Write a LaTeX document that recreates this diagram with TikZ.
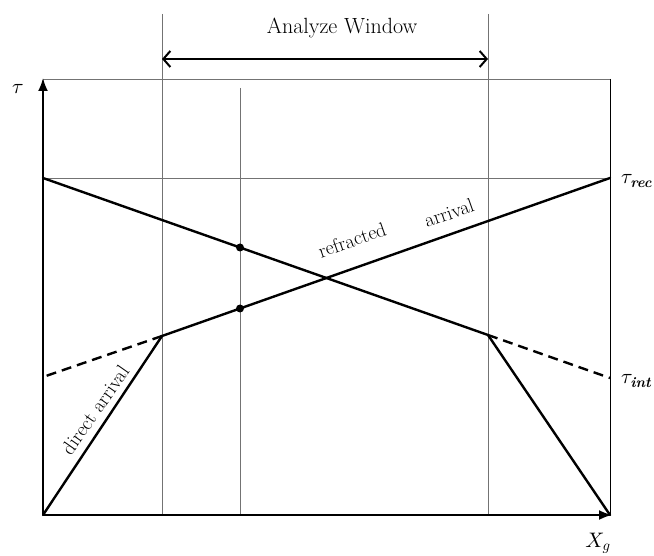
\documentclass[tikz,border=0pt]{standalone}
\usepackage{amsmath}
\usetikzlibrary{arrows.meta}
% scalable math italic so large symbols keep their size
\DeclareFontShape{OML}{cmm}{m}{it}{<->cmmi10}{}
\DeclareFontShape{OML}{cmm}{b}{it}{<->cmmib10}{}
\begin{document}
\begin{tikzpicture}[x=1pt,y=-1pt,
  guide/.style={draw=black!55, line width=0.8pt},
  axisline/.style={draw=black, line width=1.8pt, -{Latex[length=13pt,width=10pt]}},
  ray/.style={draw=black, line width=2.4pt, line cap=round, line join=round},
  rayext/.style={ray, line cap=butt, dash pattern=on 10pt off 6pt},
  pick/.style={circle, fill=black, inner sep=0pt, minimum size=8pt},
  lbl/.style={font=\fontsize{20}{22}\selectfont, inner sep=0pt},
  sym/.style={font=\fontsize{21}{24}\selectfont, inner sep=0pt}]
\useasboundingbox (0,0) rectangle (654,556);

% frame points
\coordinate (O)    at (43,515);
\coordinate (Ytop) at (43,78);
\coordinate (Xend) at (612,515);
\coordinate (TL)   at (43,79);
\coordinate (TR)   at (610,79);
\coordinate (BR)   at (610,515);
\coordinate (Lrec) at (43,178);
\coordinate (Rrec) at (610,178);
\coordinate (Lint) at (43,377);
\coordinate (Rint) at (610,378);
% kinks of the travel-time curves
\coordinate (A) at (162,336);
\coordinate (B) at (488,335);
% window guides
\coordinate (W1t) at (162,14);  \coordinate (W1b) at (162,515);
\coordinate (W2t) at (488,14);  \coordinate (W2b) at (488,515);
\coordinate (Mt)  at (240,88);  \coordinate (Mb)  at (240,515);
\coordinate (WA)  at (162,59);  \coordinate (WB)  at (488,59);

% thin guide lines
\draw[guide] (TL) -- (TR);
\draw[draw=black, line width=1pt] (TR) -- (BR);
\draw[guide] (Lrec) -- (Rrec);
\draw[guide] (W1t) -- (W1b);
\draw[guide] (W2t) -- (W2b);
\draw[guide] (Mt) -- (Mb);

% analysis window arrow
\draw[line width=2pt, {Straight Barb[length=7pt,width=16pt,line width=2pt]}-{Straight Barb[length=7pt,width=16pt,line width=2pt]}] (WA) -- (WB);
\node[lbl, font=\fontsize{22}{24}\selectfont] (win) at (342,28) {Analyze Window};

% axes
\draw[axisline] (O) -- (Ytop);
\draw[axisline] (O) -- (Xend);

% travel-time curves
\draw[ray] (Lrec) -- (B) -- (BR);
\draw[ray] (O) -- (A) -- (Rrec);
\draw[rayext] (B) -- (Rint);
\draw[rayext] (A) -- (Lint);

% picked points on the middle trace
\node[pick] (p1) at (240,247.5) {};
\node[pick] (p2) at (240,308.5) {};

% labels
\node[sym] (tau) at (18,89) {$\tau$};
\node[sym, anchor=west] (taurec) at (621,181) {$\tau_{\textbf{\textit{rec}}}$};
\node[sym, anchor=west] (tauint) at (621,381) {$\tau_{\textbf{\textit{int}}}$};
\node[sym] (xg) at (598,543) {$X_g$};
\node[lbl, rotate=55] (direct) at (95,410) {direct arrival};
\node[lbl, rotate=19.4] (refr) at (352,240) {refracted};
\node[lbl, rotate=19.4] (arr) at (449,213) {arrival};
\end{tikzpicture}
\end{document}
